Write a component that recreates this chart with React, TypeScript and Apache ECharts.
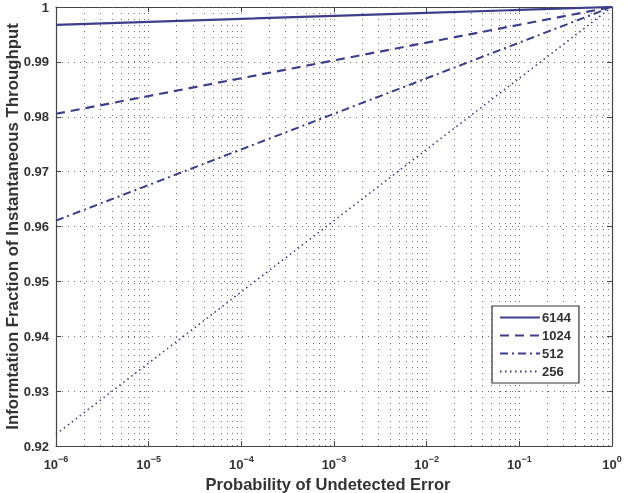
import React, { useEffect, useRef } from "react";
import * as echarts from "echarts";

const xValues = [1e-6, 1e-5, 1e-4, 1e-3, 1e-2, 1e-1, 1];
const s6144 = [0.99676, 0.9973, 0.99784, 0.99838, 0.99892, 0.99946, 1.0];
const s1024 = [0.98054, 0.98378, 0.98702, 0.99027, 0.99351, 0.99676, 1.0];
const s512 = [0.96107, 0.96756, 0.97405, 0.98054, 0.98702, 0.99351, 1.0];
const s256 = [0.92214, 0.93512, 0.9481, 0.96107, 0.97405, 0.98702, 1.0];
const seriesNames = ["6144", "1024", "512", "256"];
const yTicks = [0.92, 0.93, 0.94, 0.95, 0.96, 0.97, 0.98, 0.99, 1];

const LINE = "#3b3f8c";
const TXT = "#333333";
const AX = "#444444";
const GRID = "#707070";
const FONT = "'Liberation Sans', Arial, Helvetica, sans-serif";

export default function App() {
  const ref = useRef<HTMLDivElement>(null);
  useEffect(() => {
    if (!ref.current) return;
    const chart = echarts.init(ref.current, null, { renderer: "svg" });
    const minorGrid: number[] = [];
    for (let e = -6; e < 0; e++) {
      for (let m = 2; m <= 9; m++) minorGrid.push(m * Math.pow(10, e));
    }
    const mk = (ys: number[]) => xValues.map((x, i) => [x, ys[i]]);
    const styles = [
      { type: "solid", width: 2.2 },
      { type: [9, 6], width: 2.2 },
      { type: [8, 4, 2, 4], width: 2 },
      { type: [1.5, 3.5], width: 1.6 },
    ];
    const data = [s6144, s1024, s512, s256];
    const option: any = {
      animation: false,
      textStyle: { fontFamily: FONT },
      grid: { left: 56, right: 13, top: 7, bottom: 47, outerBoundsMode: "none", containLabel: false },
      legend: {
        data: seriesNames,
        orient: "vertical",
        left: 492,
        top: 306,
        backgroundColor: "#ffffff",
        borderColor: "#333",
        borderWidth: 1.2,
        padding: [5, 8, 5, 7],
        itemWidth: 40,
        itemHeight: 14,
        itemGap: 5,
        itemStyle: { opacity: 0 },
        textStyle: { fontFamily: FONT, fontSize: 13, fontWeight: "bold", color: TXT, padding: [0, 0, 0, -3] },
      },
      xAxis: [
        {
          type: "log",
          logBase: 10,
          min: 1e-6,
          max: 1,
          name: "Probability of Undetected Error",
          nameLocation: "middle",
          nameGap: 29,
          nameTextStyle: { fontFamily: FONT, fontSize: 16.5, fontWeight: "bold", color: TXT, padding: [0, 12, 0, 0] },
          axisLine: { show: true, lineStyle: { color: AX, width: 1.2 } },
          axisTick: { show: true, inside: true, length: 5, lineStyle: { color: AX } },
          axisLabel: {
            margin: 8,
            formatter: (v: number) => {
              const e = Math.round(Math.log10(v));
              return `{b|10}{s|${e < 0 ? "\u2212" + -e : e}}`;
            },
            rich: {
              b: { fontFamily: FONT, fontSize: 13, fontWeight: "bold", color: TXT, lineHeight: 20 },
              s: { fontFamily: FONT, fontSize: 9, fontWeight: "bold", color: TXT, lineHeight: 10, verticalAlign: "top" },
            },
          },
          splitLine: { show: true, lineStyle: { color: GRID, type: [1, 5], width: 1 } },
        },
        {
          type: "log",
          logBase: 10,
          min: 1e-6,
          max: 1,
          position: "top",
          axisLine: { show: true, lineStyle: { color: AX, width: 1.2 } },
          axisTick: { show: true, inside: true, length: 5, lineStyle: { color: AX } },
          axisLabel: { show: false },
          splitLine: { show: false },
        },
      ],
      yAxis: [
        {
          type: "value",
          min: 0.92,
          max: 1,
          interval: 0.01,
          name: "Informtation Fraction of Instantaneous Throughput",
          nameLocation: "middle",
          nameGap: 35,
          nameMoveOverlap: false,
          nameTextStyle: { fontFamily: FONT, fontSize: 16.8, fontWeight: "bold", color: TXT },
          axisLine: { show: true, lineStyle: { color: AX, width: 1.2 } },
          axisTick: { show: true, inside: true, length: 5, lineStyle: { color: AX } },
          axisLabel: {
            margin: 7,
            fontFamily: FONT,
            fontSize: 13,
            fontWeight: "bold",
            color: TXT,
            formatter: (v: number) => {
              const r = Math.round(v * 100) / 100;
              const t = yTicks.find((k) => Math.abs(k - r) < 1e-9);
              if (t === undefined) return "";
              return t === 1 ? "1" : t.toFixed(2);
            },
          },
          splitLine: { show: true, lineStyle: { color: GRID, type: [1, 5], width: 1 } },
        },
        {
          type: "value",
          min: 0.92,
          max: 1,
          interval: 0.01,
          position: "right",
          axisLine: { show: true, lineStyle: { color: AX, width: 1.2 } },
          axisTick: { show: true, inside: true, length: 5, lineStyle: { color: AX } },
          axisLabel: { show: false },
          splitLine: { show: false },
        },
      ],
      series: [
        {
          type: "lines",
          name: "__grid",
          coordinateSystem: "cartesian2d",
          silent: true,
          polyline: false,
          z: 1,
          lineStyle: { color: GRID, type: [1, 5], width: 1, opacity: 1 },
          data: minorGrid.map((v) => ({ coords: [[v, 0.92], [v, 1]] })),
        },
        ...seriesNames.map((n, i) => ({
          type: "line",
          name: n,
          data: mk(data[i]),
          showSymbol: false,
          symbol: "none",
          z: 5,
          lineStyle: { color: LINE, type: styles[i].type, width: styles[i].width },
          itemStyle: { color: LINE },
        })),
      ],
    };
    chart.setOption(option);
    return () => chart.dispose();
  }, []);
  return (
    <div
      ref={ref}
      style={{ position: "fixed", left: 0, top: 0, width: 625, height: 493 }}
    />
  );
}
